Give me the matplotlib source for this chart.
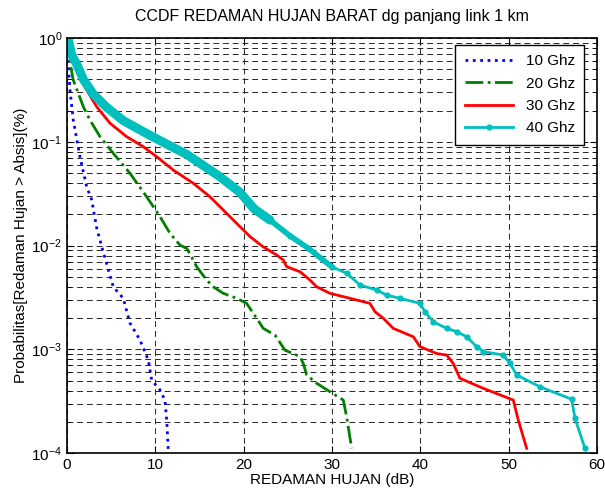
import matplotlib
matplotlib.use("Agg")
import matplotlib.pyplot as plt
from matplotlib.ticker import LogLocator, NullFormatter

plt.rcParams['font.family'] = ['Liberation Sans', 'DejaVu Sans']

# data (x in dB, y in %)
x10 = [0, 0.15, 0.34, 0.71, 1.47, 2.23, 2.80, 3.36, 3.93, 5.24, 6.37, 7.13,
       8.26, 9.20, 9.59, 10.53, 11.09, 11.29, 11.47]
y10 = [1, 0.57, 0.316, 0.162, 0.0718, 0.0369, 0.0275, 0.0148, 0.0098, 0.0040,
       0.0031, 0.00179, 0.00123, 0.00079, 0.000505, 0.000405, 0.000324,
       0.000208, 0.000107]

x20 = [0, 0.15, 0.71, 1.85, 2.60, 3.74, 5.24, 7.13, 9.02, 10.53, 11.66, 12.79,
       13.55, 14.30, 14.68, 15.82, 16.56, 17.70, 19.21, 20.34, 21.09, 21.85,
       22.22, 23.55, 23.92, 24.68, 26.38, 26.75, 27.14, 28.27, 29.77, 31.28,
       31.66, 32.23]
y20 = [1, 0.71, 0.394, 0.218, 0.162, 0.112, 0.0774, 0.0497, 0.0295, 0.0190,
       0.0131, 0.0101, 0.0094, 0.00725, 0.00625, 0.00465, 0.0040, 0.00346,
       0.0031, 0.00277, 0.00222, 0.00178, 0.00159, 0.00137, 0.00123, 0.00098,
       0.00085, 0.00073, 0.000565, 0.00047, 0.00039, 0.000324, 0.000224,
       0.000111]

x30 = [0, 0.15, 1.10, 2.23, 3.36, 4.87, 6.76, 8.64, 10.16, 12.03, 14.30, 16.19,
       18.08, 19.59, 20.72, 22.22, 23.74, 24.49, 24.87, 26.38, 27.51, 28.27,
       29.77, 32.04, 34.30, 34.87, 35.81, 36.94, 39.21, 39.96, 41.85, 42.99,
       43.73, 44.49, 47.13, 50.53, 51.09, 52.04]
y30 = [1, 0.738, 0.492, 0.315, 0.218, 0.151, 0.112, 0.0896, 0.0718, 0.0534,
       0.0398, 0.0295, 0.0204, 0.0152, 0.0122, 0.0097, 0.0081, 0.00725,
       0.00625, 0.00559, 0.00465, 0.0040, 0.00346, 0.0031, 0.00277, 0.0023,
       0.00199, 0.00159, 0.00132, 0.00106, 0.00091, 0.00088, 0.00073,
       0.000525, 0.00042, 0.000324, 0.000208, 0.000111]

x40 = [0, 0.15, 0.55, 1.10, 1.85, 2.98, 4.49, 6.37, 8.64, 11.28, 13.5, 15.06,
       17.32, 19.59, 21.2, 22.98, 25.25, 27.32, 29.97, 31.67, 33.17, 35.06,
       36.19, 37.70, 39.96, 40.53, 41.47, 42.99, 44.12, 45.25, 46.38, 47.13,
       49.40, 50.15, 50.91, 53.55, 57.14, 57.51, 58.64]
y40 = [1, 0.957, 0.68, 0.56, 0.40, 0.288, 0.215, 0.160, 0.125, 0.095, 0.076,
       0.062, 0.046, 0.0325, 0.0225, 0.0176, 0.0124, 0.0094, 0.00625, 0.0054,
       0.00416, 0.00372, 0.00333, 0.0031, 0.00277, 0.0023, 0.00184, 0.00159,
       0.00148, 0.00132, 0.00106, 0.00095, 0.00088, 0.00073, 0.000565,
       0.000435, 0.00033, 0.000216, 0.000111]
n_dense40 = 16  # the dense start of the 40 GHz curve looks like a thick band

labels = ['10 Ghz', '20 Ghz', '30 Ghz', '40 Ghz']
cyan = '#00bfbf'

fig = plt.figure(figsize=(6.05, 4.95), dpi=100)
ax = fig.add_axes([0.1107, 0.0848, 0.876, 0.8384])

ax.semilogy(x10, y10, color='#0000ff', linestyle=':', linewidth=2, label=labels[0])
ax.semilogy(x20, y20, color='#007f00', linestyle='-.', linewidth=2, label=labels[1])
ax.semilogy(x30, y30, color='#ff0000', linestyle='-', linewidth=2, label=labels[2])
ax.semilogy(x40[:n_dense40], y40[:n_dense40], color=cyan, linewidth=6.5,
            solid_capstyle='round', solid_joinstyle='round')
ax.semilogy(x40[n_dense40 - 1:n_dense40 + 3], y40[n_dense40 - 1:n_dense40 + 3],
            color=cyan, linewidth=4, solid_capstyle='round')
ax.semilogy(x40, y40, color=cyan, linestyle='-', linewidth=2, marker='.',
            markersize=7, markevery=list(range(n_dense40 - 1, len(x40))),
            label=labels[3])

ax.set_xlim(0, 60)
ax.set_ylim(1e-4, 1)
ax.set_xticks([0, 10, 20, 30, 40, 50, 60])
ax.yaxis.set_major_locator(LogLocator(base=10, numticks=10))
ax.yaxis.set_minor_locator(LogLocator(base=10, subs=range(2, 10), numticks=10))
ax.yaxis.set_minor_formatter(NullFormatter())

ax.grid(True, which='both', color='0.15', linestyle=(0, (6, 4)), linewidth=0.7)
ax.tick_params(which='both', direction='in', top=True, right=True, labelsize=11)
ax.tick_params(which='major', length=5)
ax.tick_params(which='minor', length=3)
for s in ax.spines.values():
    s.set_linewidth(1.2)

ax.set_title('CCDF REDAMAN HUJAN BARAT dg panjang link 1 km', fontsize=11.5, pad=12)
ax.set_xlabel('REDAMAN HUJAN (dB)', fontsize=11, labelpad=1)
ax.set_ylabel('Probabilitas[Redaman Hujan > Absis](%)', fontsize=11, labelpad=2)

leg = ax.legend(loc='upper right', bbox_to_anchor=(0.9755, 0.983), borderaxespad=0,
                fontsize=11, fancybox=False, edgecolor='k', framealpha=1,
                handlelength=3.2, borderpad=0.6, labelspacing=0.55)
leg.get_frame().set_linewidth(1)

fig.savefig('out.png', dpi=100)
